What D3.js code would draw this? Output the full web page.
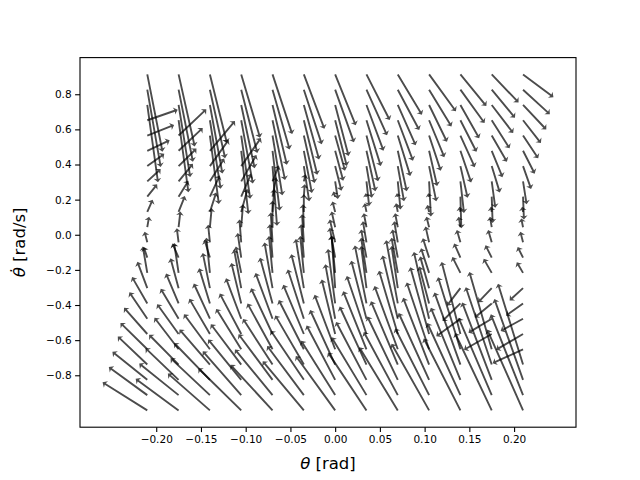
<!DOCTYPE html>
<html>
<head>
<meta charset="utf-8">
<script src="https://cdn.jsdelivr.net/npm/d3@7"></script>
<style>
  body { margin: 0; background: #fff; }
  text { font-family: "DejaVu Sans", sans-serif; fill: #000; }
  .tick text { font-size: 10.5px; }
  .label { font-size: 16.5px; }
</style>
</head>
<body>
<svg width="640" height="480"></svg>
<script>
// grid of states (theta [rad], theta-dot [rad/s])
const thetaGrid = [-0.21, -0.175, -0.14, -0.105, -0.07, -0.035, 0, 0.035, 0.07, 0.105, 0.14, 0.175, 0.21];
const rateGrid = [-1.000, -0.913, -0.826, -0.739, -0.652, -0.565, -0.478, -0.391, -0.304, -0.217, -0.130, -0.043,
                  0.043, 0.130, 0.217, 0.304, 0.391, 0.478, 0.565, 0.652, 0.739, 0.826, 0.913];

// arrow components, one list per theta column, bottom row first
const dThetaByCol = [
  [-0.050, -0.043, -0.039, -0.033, -0.030, -0.026, -0.020, -0.017, -0.011, -0.005, -0.004, -0.003, 0.002, 0.006, 0.011, 0.015, 0.019, 0.025, 0.030, 0.034, 0.012, 0.015, 0.017],
  [-0.048, -0.044, -0.037, -0.033, -0.027, -0.024, -0.020, -0.014, -0.009, -0.005, -0.007, -0.002, 0.002, 0.007, 0.011, 0.016, 0.020, 0.027, 0.031, 0.011, 0.013, 0.016, 0.018],
  [-0.047, -0.044, -0.040, -0.034, -0.029, -0.023, -0.018, -0.012, -0.008, -0.004, -0.006, -0.002, 0.002, 0.007, 0.011, 0.016, 0.021, 0.028, 0.010, 0.012, 0.014, 0.017, 0.019],
  [-0.048, -0.043, -0.037, -0.034, -0.028, -0.024, -0.017, -0.011, -0.008, -0.006, -0.004, -0.002, 0.002, 0.007, 0.011, 0.017, 0.022, 0.008, 0.010, 0.013, 0.015, 0.018, 0.021],
  [-0.047, -0.042, -0.038, -0.033, -0.028, -0.024, -0.019, -0.014, -0.009, -0.004, -0.003, -0.002, 0.000, 0.002, 0.004, 0.007, 0.005, 0.008, 0.011, 0.014, 0.016, 0.019, 0.022],
  [-0.046, -0.041, -0.037, -0.032, -0.028, -0.023, -0.018, -0.014, -0.009, -0.004, -0.003, -0.002, -0.001, 0.000, 0.001, 0.002, 0.006, 0.009, 0.012, 0.015, 0.017, 0.020, 0.023],
  [-0.044, -0.038, -0.032, -0.028, -0.023, -0.015, -0.011, -0.008, -0.004, -0.004, -0.006, -0.006, -0.004, -0.003, -0.002, 0.003, 0.007, 0.009, 0.011, 0.013, 0.015, 0.021, 0.023],
  [-0.043, -0.039, -0.034, -0.030, -0.026, -0.022, -0.017, -0.013, -0.006, -0.006, -0.006, -0.004, -0.003, -0.002, -0.001, 0.003, 0.006, 0.010, 0.013, 0.016, 0.019, 0.023, 0.026],
  [-0.043, -0.038, -0.034, -0.030, -0.026, -0.021, -0.017, -0.013, -0.007, -0.007, -0.006, -0.004, -0.003, -0.002, -0.001, 0.003, 0.007, 0.010, 0.014, 0.017, 0.020, 0.024, 0.027],
  [-0.042, -0.038, -0.034, -0.029, -0.025, -0.021, -0.017, -0.011, -0.010, -0.009, -0.007, -0.004, -0.003, -0.002, -0.001, 0.002, 0.008, 0.009, 0.013, 0.017, 0.020, 0.025, 0.030],
  [-0.041, -0.037, -0.033, -0.029, -0.025, -0.021, -0.027, -0.020, -0.015, -0.009, -0.007, -0.004, -0.002, -0.001, 0.001, 0.004, 0.008, 0.012, 0.016, 0.018, 0.021, 0.027, 0.029],
  [-0.041, -0.037, -0.033, -0.029, -0.025, -0.031, -0.026, -0.019, -0.015, -0.009, -0.007, -0.004, -0.002, -0.001, 0.001, 0.004, 0.009, 0.012, 0.017, 0.020, 0.024, 0.026, 0.030],
  [-0.040, -0.036, -0.032, -0.028, -0.034, -0.030, -0.025, -0.019, -0.015, -0.007, -0.006, -0.003, -0.002, -0.001, 0.001, 0.004, 0.009, 0.013, 0.017, 0.020, 0.026, 0.030, 0.034]
];
const dRateByCol = [
  [0.16, 0.16, 0.16, 0.16, 0.15, 0.15, 0.15, 0.15, 0.15, 0.15, 0.06, 0.06, 0.06, 0.07, 0.07, 0.07, 0.07, 0.06, 0.06, 0.06, -0.44, -0.44, -0.44],
  [0.18, 0.18, 0.18, 0.17, 0.18, 0.17, 0.17, 0.17, 0.17, 0.17, 0.08, 0.08, 0.09, 0.09, 0.09, 0.10, 0.10, 0.13, 0.15, -0.41, -0.41, -0.41, -0.41],
  [0.21, 0.21, 0.21, 0.20, 0.20, 0.20, 0.20, 0.20, 0.20, 0.20, 0.10, 0.10, 0.11, 0.11, 0.12, 0.13, 0.15, 0.17, -0.39, -0.39, -0.39, -0.39, -0.39],
  [0.24, 0.25, 0.23, 0.23, 0.23, 0.23, 0.23, 0.23, 0.22, 0.15, 0.14, 0.13, 0.13, 0.13, 0.13, 0.15, 0.16, -0.36, -0.36, -0.36, -0.36, -0.36, -0.36],
  [0.26, 0.26, 0.26, 0.26, 0.26, 0.26, 0.26, 0.26, 0.26, 0.21, 0.19, 0.17, 0.15, 0.13, 0.11, 0.09, -0.34, -0.34, -0.34, -0.34, -0.34, -0.34, -0.34],
  [0.28, 0.28, 0.28, 0.28, 0.28, 0.28, 0.28, 0.28, 0.28, 0.21, 0.19, 0.16, 0.13, 0.10, 0.07, 0.04, -0.20, -0.24, -0.27, -0.31, -0.31, -0.31, -0.31],
  [0.31, 0.31, 0.31, 0.31, 0.31, 0.31, 0.31, 0.31, 0.30, 0.21, 0.17, 0.13, 0.09, 0.06, 0.03, -0.10, -0.14, -0.17, -0.20, -0.26, -0.29, -0.30, -0.29],
  [0.33, 0.33, 0.33, 0.33, 0.33, 0.33, 0.33, 0.33, 0.24, 0.20, 0.16, 0.12, 0.08, 0.05, 0.02, -0.14, -0.18, -0.23, -0.26, -0.26, -0.26, -0.26, -0.26],
  [0.36, 0.36, 0.36, 0.36, 0.36, 0.36, 0.36, 0.36, 0.24, 0.20, 0.16, 0.12, 0.08, 0.05, 0.02, -0.16, -0.20, -0.23, -0.23, -0.23, -0.23, -0.23, -0.23],
  [0.38, 0.38, 0.38, 0.38, 0.38, 0.38, 0.38, 0.21, 0.18, 0.14, 0.11, 0.09, 0.06, 0.04, 0.02, -0.20, -0.20, -0.20, -0.20, -0.21, -0.21, -0.21, -0.21],
  [0.41, 0.41, 0.41, 0.41, 0.41, 0.41, -0.10, -0.10, -0.10, 0.09, 0.08, 0.07, 0.06, 0.03, -0.18, -0.18, -0.18, -0.18, -0.18, -0.18, -0.19, -0.19, -0.18],
  [0.44, 0.44, 0.44, 0.44, 0.44, -0.09, -0.08, -0.08, -0.08, 0.08, 0.07, 0.07, 0.06, 0.03, -0.15, -0.15, -0.15, -0.15, -0.15, -0.16, -0.16, -0.16, -0.16],
  [0.46, 0.46, 0.46, 0.46, -0.08, -0.09, -0.07, -0.07, -0.07, 0.06, 0.06, 0.06, 0.05, 0.03, -0.13, -0.13, -0.13, -0.13, -0.13, -0.13, -0.14, -0.14, -0.13]
];

const xTicks = [-0.20, -0.15, -0.10, -0.05, 0.00, 0.05, 0.10, 0.15, 0.20];
const yTicks = [-0.8, -0.6, -0.4, -0.2, 0.0, 0.2, 0.4, 0.6, 0.8];

const svg = d3.select("svg");
const W = +svg.attr("width"), H = +svg.attr("height");
const margin = { top: 57.6, right: 64, bottom: 52.8, left: 80 };

svg.append("rect").attr("width", W).attr("height", H).attr("fill", "#fff");

// flatten the grid into arrows
const arrows = [];
thetaGrid.forEach((th, i) => {
  rateGrid.forEach((r, j) => {
    arrows.push({ th, r, u: dThetaByCol[i][j], v: dRateByCol[i][j] });
  });
});

// axis limits like matplotlib: data extent incl. arrow tips, 5% padding
const pad = ([a, b]) => [a - (b - a) * 0.05, b + (b - a) * 0.05];
const xExt = d3.extent(arrows.flatMap(d => [d.th, d.th + d.u]));
const yExt = d3.extent(arrows.flatMap(d => [d.r, d.r + d.v]));

const x = d3.scaleLinear().domain(pad(xExt)).range([margin.left, W - margin.right]);
const y = d3.scaleLinear().domain(pad(yExt)).range([H - margin.bottom, margin.top]);

const shaftHalf = 0.95, headLen = 4, headAxis = 3.2, headHalf = 3.8;

const arrowPath = (d) => {
  const x0 = x(d.th), y0 = y(d.r);
  const x1 = x(d.th + d.u), y1 = y(d.r + d.v);
  const len = Math.hypot(x1 - x0, y1 - y0);
  if (len < 0.3) return null;
  const ux = (x1 - x0) / len, uy = (y1 - y0) / len;
  const nx = -uy, ny = ux;
  const s = Math.min(1, len / headLen);
  const hl = headLen * s, ha = headAxis * s, hw = headHalf * s;
  const P = (a, b) => [x0 + ux * a + nx * b, y0 + uy * a + ny * b];
  const pts = [P(0, shaftHalf), P(len - ha, shaftHalf), P(len - hl, hw), P(len, 0),
               P(len - hl, -hw), P(len - ha, -shaftHalf), P(0, -shaftHalf)];
  return d3.line()(pts) + "Z";
};

svg.append("defs").append("clipPath").attr("id", "plot")
  .append("rect")
    .attr("x", margin.left).attr("y", margin.top)
    .attr("width", W - margin.left - margin.right)
    .attr("height", H - margin.top - margin.bottom);

svg.append("g")
    .attr("class", "quiver")
    .attr("clip-path", "url(#plot)")
  .selectAll("path")
  .data(arrows)
  .enter().append("path")
    .attr("d", arrowPath)
    .attr("fill", "#000")
    .attr("fill-opacity", 0.7);

// frame
svg.append("rect")
  .attr("x", margin.left).attr("y", margin.top)
  .attr("width", W - margin.left - margin.right)
  .attr("height", H - margin.top - margin.bottom)
  .attr("fill", "none").attr("stroke", "#000").attr("stroke-width", 1.1);

const xAxis = svg.append("g")
  .attr("transform", `translate(0, ${H - margin.bottom})`)
  .call(d3.axisBottom(x).tickValues(xTicks).tickFormat(d3.format(".2f")).tickSize(4.9).tickPadding(3.5));

const yAxis = svg.append("g")
  .attr("transform", `translate(${margin.left}, 0)`)
  .call(d3.axisLeft(y).tickValues(yTicks).tickFormat(d3.format(".1f")).tickSize(4.9).tickPadding(3.5));

[xAxis, yAxis].forEach(a => {
  a.attr("font-family", null).attr("font-size", null);
  a.select(".domain").remove();
  a.selectAll(".tick line").attr("stroke", "#000").attr("stroke-width", 1.1);
});

// axis labels
const xl = svg.append("text")
  .attr("class", "label")
  .attr("x", (margin.left + W - margin.right) / 2)
  .attr("y", 469)
  .attr("text-anchor", "middle");
xl.append("tspan").attr("font-style", "italic").text("θ");
xl.append("tspan").text(" [rad]");

const yl = svg.append("text")
  .attr("class", "label")
  .attr("transform", `translate(25, ${(margin.top + H - margin.bottom) / 2}) rotate(-90)`)
  .attr("text-anchor", "middle");
yl.append("tspan").attr("font-style", "italic").text("θ\u0307");
yl.append("tspan").text(" [rad/s]");
</script>
</body>
</html>
